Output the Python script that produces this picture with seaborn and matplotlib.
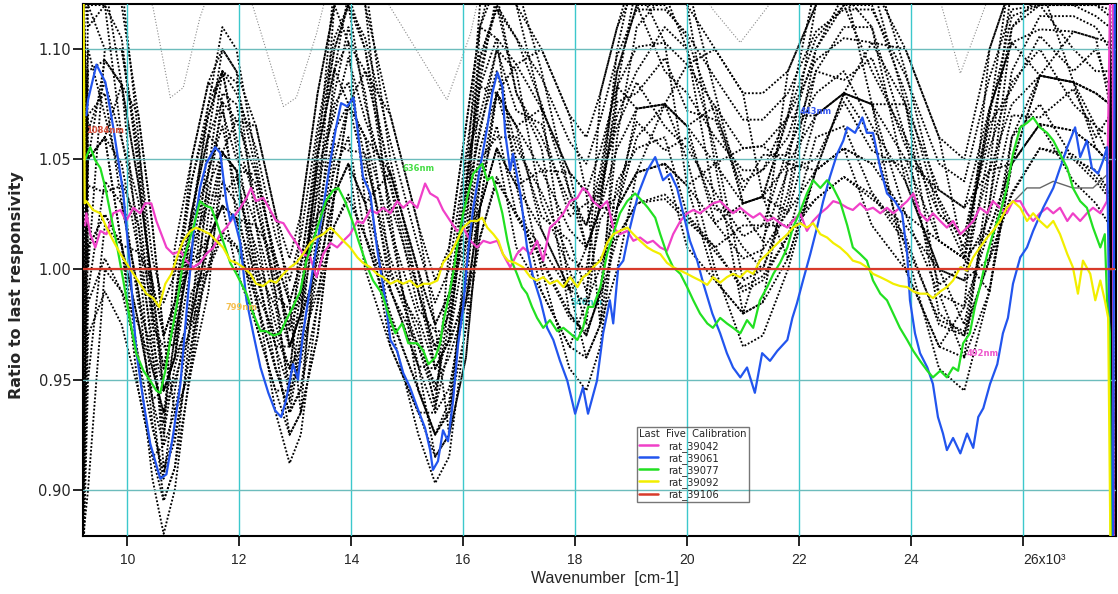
import matplotlib
matplotlib.use("Agg")
from matplotlib import pyplot as plt
from matplotlib.lines import Line2D
from matplotlib.ticker import FormatStrFormatter
import matplotlib.transforms as mtransforms
import seaborn as sns
import pandas as pd

# Wavenumber in units of 10^3 cm-1, ratio to the last responsivity
mag_x = [9.25, 9.27, 9.34, 9.43, 9.52, 9.63, 9.75, 9.88, 9.98, 10.11, 10.23, 10.32, 10.43, 10.52, 10.61, 10.70,
         10.82, 10.95, 11.05, 11.18, 11.30, 11.41, 11.54, 11.66, 11.77, 11.89, 12.02, 12.13, 12.21, 12.30, 12.43,
         12.55, 12.66, 12.79, 12.91, 13.02, 13.14, 13.27, 13.38, 13.50, 13.63, 13.75, 13.86, 13.98, 14.11, 14.21,
         14.34, 14.46, 14.57, 14.70, 14.82, 14.93, 15.05, 15.18, 15.32, 15.41, 15.54, 15.64, 15.77, 15.89, 16.00,
         16.13, 16.25, 16.36, 16.48, 16.61, 16.71, 16.84, 16.96, 17.07, 17.20, 17.32, 17.43, 17.55, 17.68, 17.79,
         17.91, 18.04, 18.14, 18.23, 18.32, 18.45, 18.57, 18.68, 18.80, 18.93, 19.04, 19.16, 19.29, 19.39, 19.52,
         19.64, 19.75, 19.88, 20.00, 20.11, 20.23, 20.36, 20.46, 20.59, 20.71, 20.82, 20.95, 21.07, 21.18, 21.30,
         21.43, 21.54, 21.66, 21.79, 21.89, 22.02, 22.14, 22.25, 22.38, 22.50, 22.61, 22.73, 22.86, 22.96, 23.09,
         23.21, 23.32, 23.45, 23.57, 23.68, 23.80, 23.93, 24.04, 24.16, 24.29, 24.39, 24.52, 24.64, 24.75, 24.88,
         25.00, 25.11, 25.23, 25.36, 25.46, 25.59, 25.71, 25.82, 25.95, 26.07, 26.18, 26.30, 26.43, 26.54, 26.66,
         26.79, 26.89, 27.02, 27.14, 27.25, 27.38, 27.50, 27.60, 27.62]
mag_y = [1.020, 1.0255, 1.016, 1.010, 1.0175, 1.016, 1.0255, 1.027, 1.022, 1.028, 1.0255, 1.030, 1.030, 1.022, 1.016,
         1.010, 1.007, 1.0085, 1.004, 1.001, 1.003, 1.007, 1.010, 1.016, 1.019, 1.0235, 1.028, 1.0325, 1.037, 1.031,
         1.0325, 1.027, 1.022, 1.021, 1.016, 1.012, 1.007, 1.0055, 0.9965, 1.007, 1.012, 1.010, 1.013, 1.016, 1.022,
         1.021, 1.027, 1.0255, 1.028, 1.0255, 1.031, 1.028, 1.031, 1.028, 1.039, 1.0345, 1.0325, 1.027, 1.022, 1.0175,
         1.019, 1.013, 1.010, 1.013, 1.012, 1.013, 1.007, 1.001, 1.007, 1.010, 1.007, 1.013, 1.004, 1.019, 1.022,
         1.0255, 1.031, 1.0325, 1.037, 1.035, 1.031, 1.028, 1.031, 1.019, 1.016, 1.0175, 1.013, 1.0145, 1.012, 1.013,
         1.010, 1.0085, 1.016, 1.022, 1.0255, 1.027, 1.0255, 1.028, 1.030, 1.031, 1.028, 1.0255, 1.028, 1.0255,
         1.0235, 1.0255, 1.022, 1.0235, 1.021, 1.019, 1.022, 1.0255, 1.0175, 1.022, 1.0255, 1.028, 1.031, 1.030,
         1.028, 1.027, 1.030, 1.027, 1.028, 1.0255, 1.028, 1.0255, 1.028, 1.031, 1.0345, 1.0255, 1.022, 1.0255, 1.022,
         1.019, 1.022, 1.016, 1.019, 1.022, 1.028, 1.0255, 1.031, 1.028, 1.0255, 1.031, 1.031, 1.0255, 1.022, 1.0255,
         1.028, 1.0255, 1.028, 1.022, 1.0255, 1.022, 1.0255, 1.028, 1.0255, 1.031, 1.20, 0.80]

blue_x = [9.27, 9.30, 9.45, 9.61, 9.75, 9.93, 10.05, 10.16, 10.29, 10.41, 10.59, 10.70, 10.82, 10.95, 11.05, 11.18,
          11.30, 11.41, 11.57, 11.66, 11.77, 11.84, 11.89, 12.02, 12.13, 12.25, 12.38, 12.52, 12.64, 12.75, 12.84,
          12.96, 13.05, 13.14, 13.32, 13.50, 13.63, 13.73, 13.82, 13.93, 14.04, 14.11, 14.21, 14.34, 14.46, 14.61,
          14.70, 14.82, 14.93, 15.05, 15.20, 15.32, 15.41, 15.46, 15.55, 15.64, 15.73, 15.82, 15.91, 16.00, 16.09,
          16.18, 16.30, 16.43, 16.52, 16.61, 16.70, 16.75, 16.84, 16.89, 17.02, 17.14, 17.25, 17.38, 17.50, 17.61,
          17.73, 17.86, 18.00, 18.14, 18.23, 18.39, 18.50, 18.62, 18.68, 18.77, 18.86, 18.98, 19.13, 19.29, 19.43,
          19.57, 19.70, 19.82, 19.93, 20.05, 20.18, 20.29, 20.45, 20.59, 20.71, 20.82, 20.95, 21.07, 21.21, 21.34,
          21.48, 21.61, 21.79, 21.88, 21.96, 22.07, 22.20, 22.32, 22.43, 22.55, 22.68, 22.79, 22.86, 23.00, 23.13,
          23.21, 23.32, 23.45, 23.57, 23.71, 23.84, 23.93, 23.98, 24.07, 24.16, 24.29, 24.39, 24.48, 24.57, 24.64,
          24.75, 24.88, 25.00, 25.11, 25.20, 25.29, 25.41, 25.54, 25.64, 25.73, 25.82, 25.95, 26.07, 26.18, 26.36,
          26.54, 26.66, 26.79, 26.93, 27.02, 27.14, 27.23, 27.34, 27.43, 27.50, 27.52, 27.60, 27.65]
blue_y = [1.070, 1.077, 1.093, 1.085, 1.0645, 1.0345, 1.001, 0.963, 0.940, 0.921, 0.905, 0.907, 0.925, 0.948, 0.978,
          1.016, 1.037, 1.048, 1.0555, 1.053, 1.031, 1.022, 1.025, 1.012, 0.986, 0.971, 0.9555, 0.944, 0.936, 0.933,
          0.941, 0.957, 0.950, 0.971, 1.001, 1.028, 1.0495, 1.0645, 1.0755, 1.074, 1.078, 1.0645, 1.042, 1.0345,
          1.010, 0.986, 0.968, 0.963, 0.953, 0.9465, 0.936, 0.928, 0.918, 0.909, 0.913, 0.927, 0.922, 0.9405, 0.966,
          0.983, 1.0085, 1.028, 1.046, 1.0645, 1.080, 1.0895, 1.083, 1.062, 1.045, 1.0525, 1.0345, 1.010, 0.9965,
          0.986, 0.9735, 0.968, 0.9585, 0.9495, 0.9345, 0.9465, 0.9345, 0.9495, 0.971, 0.986, 0.9755, 1.001, 1.004,
          1.019, 1.0345, 1.045, 1.051, 1.0405, 1.0435, 1.037, 1.0255, 1.013, 1.004, 0.9935, 0.980, 0.971, 0.962,
          0.9555, 0.951, 0.9555, 0.944, 0.962, 0.9585, 0.963, 0.968, 0.978, 0.9845, 0.995, 1.007, 1.019, 1.031, 1.042,
          1.0525, 1.0585, 1.0645, 1.062, 1.069, 1.062, 1.062, 1.046, 1.0345, 1.031, 1.0255, 1.007, 0.986, 0.971,
          0.962, 0.9555, 0.948, 0.933, 0.9255, 0.918, 0.9235, 0.9165, 0.9255, 0.919, 0.933, 0.937, 0.948, 0.957,
          0.971, 0.978, 0.9935, 1.0055, 1.010, 1.0175, 1.028, 1.037, 1.046, 1.0555, 1.0645, 1.051, 1.0585, 1.046,
          1.0435, 1.0495, 1.0555, 1.016, 0.84, 1.20]

green_x = [9.25, 9.34, 9.43, 9.52, 9.61, 9.70, 9.80, 9.93, 10.05, 10.16, 10.29, 10.41, 10.52, 10.59, 10.68, 10.77,
           10.88, 11.00, 11.18, 11.30, 11.39, 11.50, 11.59, 11.71, 11.84, 11.95, 12.13, 12.25, 12.38, 12.48, 12.61,
           12.73, 12.84, 12.96, 13.09, 13.20, 13.32, 13.45, 13.55, 13.68, 13.77, 13.89, 14.02, 14.13, 14.29, 14.39,
           14.55, 14.70, 14.79, 14.91, 15.02, 15.18, 15.29, 15.38, 15.50, 15.59, 15.64, 15.73, 15.82, 15.91, 16.00,
           16.09, 16.18, 16.34, 16.43, 16.52, 16.61, 16.70, 16.79, 16.88, 16.96, 17.05, 17.14, 17.23, 17.32, 17.43,
           17.55, 17.68, 17.79, 17.91, 18.04, 18.14, 18.23, 18.32, 18.45, 18.57, 18.68, 18.80, 18.93, 19.07, 19.20,
           19.30, 19.43, 19.52, 19.64, 19.75, 19.88, 20.00, 20.11, 20.23, 20.36, 20.46, 20.59, 20.71, 20.82, 20.95,
           21.07, 21.18, 21.30, 21.43, 21.54, 21.66, 21.79, 21.89, 22.02, 22.14, 22.25, 22.38, 22.50, 22.61, 22.73,
           22.86, 22.96, 23.09, 23.21, 23.32, 23.45, 23.57, 23.68, 23.80, 23.93, 24.04, 24.16, 24.29, 24.39, 24.52,
           24.64, 24.75, 24.84, 24.93, 25.05, 25.14, 25.23, 25.36, 25.46, 25.59, 25.71, 25.82, 25.95, 26.07, 26.18,
           26.30, 26.43, 26.54, 26.66, 26.79, 26.89, 27.02, 27.14, 27.25, 27.38, 27.46, 27.50, 27.55, 27.58]
green_y = [1.050, 1.0555, 1.0495, 1.046, 1.037, 1.0255, 1.013, 0.995, 0.977, 0.962, 0.954, 0.9495, 0.945, 0.944,
           0.954, 0.968, 0.983, 1.004, 1.019, 1.031, 1.029, 1.028, 1.022, 1.013, 1.003, 0.998, 0.989, 0.980, 0.972,
           0.972, 0.970, 0.971, 0.977, 0.983, 0.990, 1.004, 1.013, 1.0235, 1.031, 1.036, 1.037, 1.031, 1.022, 1.013,
           1.001, 0.995, 0.989, 0.977, 0.971, 0.9755, 0.9665, 0.9665, 0.963, 0.957, 0.960, 0.9665, 0.9755, 0.986,
           0.998, 1.013, 1.0255, 1.0345, 1.0435, 1.048, 1.0405, 1.042, 1.0345, 1.0255, 1.013, 1.003, 0.998, 0.992,
           0.989, 0.983, 0.978, 0.9735, 0.977, 0.972, 0.9735, 0.971, 0.968, 0.9735, 0.983, 0.983, 0.992, 1.007, 1.016,
           1.0255, 1.031, 1.0345, 1.031, 1.028, 1.0235, 1.016, 1.007, 1.001, 0.998, 0.992, 0.986, 0.980, 0.9755,
           0.9735, 0.978, 0.9755, 0.9735, 0.971, 0.977, 0.9735, 0.986, 0.992, 0.998, 1.003, 1.010, 1.019, 1.0265,
           1.0345, 1.0405, 1.037, 1.0405, 1.037, 1.031, 1.020, 1.010, 1.007, 1.004, 0.995, 0.989, 0.986, 0.980,
           0.9735, 0.968, 0.963, 0.9585, 0.954, 0.951, 0.954, 0.951, 0.9555, 0.954, 0.9665, 0.971, 0.983, 0.992,
           1.007, 1.016, 1.0255, 1.037, 1.0525, 1.0645, 1.0665, 1.069, 1.0645, 1.062, 1.0585, 1.0525, 1.046, 1.037,
           1.031, 1.028, 1.019, 1.010, 1.016, 0.986, 0.971, 0.80]

yel_x = [9.22, 9.24, 9.27, 9.39, 9.52, 9.63, 9.75, 9.88, 9.98, 10.11, 10.23, 10.34, 10.46, 10.57, 10.68, 10.79,
         10.91, 11.00, 11.13, 11.23, 11.36, 11.48, 11.59, 11.71, 11.84, 11.95, 12.07, 12.20, 12.30, 12.43, 12.55,
         12.66, 12.79, 12.91, 13.02, 13.14, 13.27, 13.38, 13.50, 13.63, 13.75, 13.86, 13.98, 14.11, 14.21, 14.34,
         14.46, 14.57, 14.70, 14.82, 14.93, 15.05, 15.18, 15.29, 15.41, 15.54, 15.64, 15.77, 15.89, 16.00, 16.13,
         16.25, 16.34, 16.43, 16.54, 16.63, 16.71, 16.80, 16.93, 17.07, 17.20, 17.32, 17.43, 17.55, 17.68, 17.79,
         17.91, 18.04, 18.14, 18.23, 18.32, 18.45, 18.57, 18.68, 18.80, 18.93, 19.04, 19.16, 19.29, 19.39, 19.52,
         19.64, 19.75, 19.88, 20.00, 20.11, 20.23, 20.36, 20.46, 20.59, 20.71, 20.82, 20.95, 21.07, 21.18, 21.30,
         21.43, 21.54, 21.66, 21.79, 21.89, 22.02, 22.14, 22.25, 22.38, 22.50, 22.61, 22.73, 22.86, 22.96, 23.09,
         23.21, 23.32, 23.45, 23.57, 23.68, 23.80, 23.93, 24.04, 24.16, 24.29, 24.39, 24.52, 24.64, 24.75, 24.88,
         25.00, 25.11, 25.23, 25.36, 25.46, 25.59, 25.71, 25.82, 25.95, 26.07, 26.18, 26.30, 26.43, 26.54, 26.66,
         26.79, 26.89, 26.98, 27.07, 27.20, 27.29, 27.38, 27.46, 27.52, 27.59]
yel_y = [1.13, 1.030, 1.031, 1.027, 1.0255, 1.019, 1.013, 1.007, 1.003, 0.998, 0.9935, 0.989, 0.987, 0.983, 0.9935,
         0.998, 1.007, 1.013, 1.0175, 1.019, 1.0175, 1.016, 1.013, 1.010, 1.004, 1.003, 1.001, 0.998, 0.9935, 0.9925,
         0.995, 0.994, 0.998, 1.001, 1.003, 1.007, 1.012, 1.0145, 1.016, 1.019, 1.016, 1.013, 1.010, 1.0055, 1.003,
         1.001, 0.998, 0.9965, 0.9935, 0.995, 0.9935, 0.995, 0.992, 0.9935, 0.9935, 0.995, 1.003, 1.007, 1.013, 1.019,
         1.022, 1.022, 1.0235, 1.019, 1.016, 1.013, 1.007, 1.004, 1.003, 1.001, 0.9965, 0.995, 0.9965, 0.9935, 0.995,
         0.992, 0.9965, 0.992, 0.9965, 0.998, 1.001, 1.004, 1.012, 1.016, 1.0175, 1.019, 1.016, 1.013, 1.010, 1.0085,
         1.007, 1.003, 1.001, 0.9995, 0.998, 0.9965, 0.995, 0.993, 0.9965, 0.994, 0.9965, 0.998, 0.9965, 0.9995,
         0.998, 1.004, 1.007, 1.010, 1.013, 1.016, 1.019, 1.021, 1.019, 1.021, 1.016, 1.0145, 1.012, 1.010, 1.007,
         1.004, 1.003, 1.001, 0.998, 0.9965, 0.995, 0.9935, 0.9925, 0.992, 0.990, 0.989, 0.989, 0.987, 0.990, 0.992,
         0.995, 1.001, 0.9995, 1.0055, 1.010, 1.0145, 1.0175, 1.022, 1.028, 1.031, 1.028, 1.022, 1.0255, 1.022,
         1.019, 1.022, 1.016, 1.007, 1.001, 0.989, 1.004, 0.998, 0.986, 0.995, 0.986, 0.978, 0.80]

red_x = [9.21, 27.62]
red_y = [1.0, 1.0]

# shared wavenumbers of the older calibration ratios (black dotted family)
black_x = [9.22, 9.3, 9.6, 9.9, 10.2, 10.45, 10.65, 10.85, 11.15, 11.45,
           11.7, 11.95, 12.3, 12.65, 12.9, 13.1, 13.4, 13.7, 13.95, 14.25,
           14.7, 15.2, 15.5, 15.75, 16.05, 16.3, 16.6, 16.95, 17.4, 17.9,
           18.2, 18.45, 18.75, 19.1, 19.6, 20.0, 20.5, 21.0, 21.35, 21.8,
           22.3, 22.8, 23.3, 23.9, 24.5, 24.95, 25.4, 25.8, 26.3, 26.9,
           27.3, 27.55, 27.62]
black_runs = [
    [0.88, 0.97, 0.99, 0.975, 0.945, 0.915, 0.895, 0.91, 0.955, 1.014,
     1.029, 1.0, 0.975, 0.945, 0.925, 0.935, 0.97, 1.034, 1.048, 1.0,
     0.965, 0.935, 0.915, 0.925, 0.96, 1.028, 1.055, 1.01, 0.99, 0.965,
     0.96, 0.975, 1.028, 1.044, 1.048, 1.01, 0.995, 0.98, 0.985, 1.005,
     1.045, 1.055, 1.02, 1.0, 0.965, 0.96, 0.99, 1.048, 1.066, 1.04,
     1.03, 1.02, 0.85],
    [1.14, 1.13, 1.14, 1.12, 1.07, 1.02, 0.97, 0.985, 1.05, 1.085,
     1.10, 1.09, 1.065, 1.025, 1.005, 1.025, 1.08, 1.12, 1.14, 1.12,
     1.07, 1.02, 0.995, 1.01, 1.065, 1.11, 1.14, 1.12, 1.10, 1.07,
     1.06, 1.08, 1.11, 1.14, 1.14, 1.12, 1.10, 1.08, 1.08, 1.09,
     1.12, 1.14, 1.13, 1.10, 1.06, 1.05, 1.10, 1.13, 1.14, 1.14,
     1.13, 1.13, 0.95],
    [0.87, 1.13, 1.13, 1.084, 1.008, 0.941, 0.895, 0.91, 0.979, 1.061,
     1.10, 1.09, 1.02, 0.965, 0.925, 0.935, 1.025, 1.12, 1.13, 1.12,
     1.018, 0.956, 0.915, 0.925, 1.013, 1.11, 1.13, 1.12, 1.073, 0.991,
     0.96, 0.975, 1.083, 1.13, 1.13, 1.12, 1.048, 0.98, 0.985, 1.048,
     1.12, 1.13, 1.13, 1.075, 0.989, 0.96, 1.045, 1.13, 1.13, 1.13,
     1.13, 1.13, 0.90],
    [1.10, 1.01, 1.025, 1.011, 1.008, 0.994, 0.97, 0.985, 1.003, 1.014,
     1.029, 1.023, 1.02, 1.005, 0.985, 1.003, 1.025, 1.034, 1.048, 1.03,
     1.044, 0.999, 0.975, 0.989, 1.013, 1.028, 1.055, 1.038, 1.045, 1.044,
     1.035, 1.028, 1.028, 1.044, 1.048, 1.038, 1.048, 1.055, 1.056, 1.048,
     1.045, 1.055, 1.048, 1.05, 1.036, 1.028, 1.045, 1.048, 1.066, 1.063,
     1.055, 1.048, 0.86],
    [0.92, 1.01, 1.025, 1.011, 0.976, 0.941, 0.92, 0.935, 0.979, 1.014,
     1.029, 1.023, 0.998, 0.965, 0.945, 0.958, 0.998, 1.034, 1.048, 1.03,
     0.991, 0.956, 0.935, 0.946, 0.986, 1.028, 1.055, 1.038, 1.018, 0.991,
     0.985, 1.001, 1.028, 1.044, 1.048, 1.038, 1.021, 1.005, 1.009, 1.026,
     1.045, 1.055, 1.048, 1.025, 0.989, 0.983, 1.018, 1.048, 1.066, 1.063,
     1.055, 1.048, 0.84],
    [1.12, 1.05, 1.06, 1.048, 1.008, 0.968, 0.945, 0.96, 1.003, 1.038,
     1.053, 1.045, 1.02, 0.985, 0.965, 0.98, 1.025, 1.063, 1.075, 1.06,
     1.018, 0.978, 0.955, 0.968, 1.013, 1.055, 1.08, 1.065, 1.045, 1.018,
     1.01, 1.028, 1.055, 1.073, 1.075, 1.065, 1.048, 1.03, 1.033, 1.048,
     1.07, 1.08, 1.075, 1.05, 1.013, 1.005, 1.045, 1.075, 1.088, 1.085,
     1.08, 1.075, 0.88],
    [0.95, 1.09, 1.095, 1.084, 1.039, 0.994, 0.97, 0.985, 1.026, 1.061,
     1.076, 1.068, 1.043, 1.005, 0.985, 1.003, 1.053, 1.091, 1.103, 1.09,
     1.044, 0.999, 0.975, 0.989, 1.039, 1.083, 1.105, 1.093, 1.073, 1.044,
     1.035, 1.054, 1.083, 1.101, 1.103, 1.093, 1.074, 1.055, 1.056, 1.069,
     1.095, 1.105, 1.103, 1.075, 1.036, 1.028, 1.073, 1.103, 1.109, 1.108,
     1.105, 1.103, 0.92],
    [1.13, 1.05, 1.06, 1.084, 1.07, 1.02, 0.97, 0.935, 0.955, 0.99,
     1.053, 1.068, 1.065, 1.025, 0.985, 0.935, 0.97, 1.034, 1.075, 1.09,
     1.07, 1.02, 0.975, 0.925, 0.96, 1.028, 1.08, 1.093, 1.10, 1.07,
     1.035, 0.975, 1.0, 1.044, 1.075, 1.093, 1.10, 1.08, 1.033, 1.005,
     1.045, 1.08, 1.103, 1.10, 1.06, 1.005, 0.99, 1.048, 1.088, 1.108,
     1.105, 1.075, 0.89],
    [0.89, 1.05, 1.06, 1.011, 0.945, 0.915, 0.92, 1.01, 1.05, 1.085,
     1.076, 1.023, 0.975, 0.945, 0.945, 1.025, 1.08, 1.12, 1.103, 1.03,
     0.965, 0.935, 0.935, 1.01, 1.065, 1.11, 1.105, 1.038, 0.99, 0.965,
     0.985, 1.08, 1.11, 1.13, 1.103, 1.038, 0.995, 0.98, 1.009, 1.09,
     1.12, 1.13, 1.075, 1.0, 0.965, 0.983, 1.10, 1.13, 1.13, 1.085,
     1.055, 1.048, 0.87],
    [0.87, 0.95, 1.02, 1.011, 0.96, 0.905, 0.88, 0.90, 0.96, 1.025,
     1.053, 1.045, 0.99, 0.935, 0.912, 0.925, 0.985, 1.05, 1.075, 1.045,
     0.975, 0.925, 0.903, 0.915, 0.975, 1.04, 1.08, 1.05, 1.0, 0.955,
     0.945, 0.965, 1.028, 1.06, 1.075, 1.05, 1.0, 0.965, 0.97, 1.0,
     1.045, 1.08, 1.06, 1.01, 0.955, 0.945, 0.99, 1.06, 1.088, 1.085,
     1.065, 1.05, 0.83],
    [1.13, 1.11, 1.12, 1.06, 1.02, 0.98, 0.955, 0.985, 1.04, 1.07,
     1.09, 1.06, 1.03, 0.995, 0.975, 1.0, 1.06, 1.10, 1.12, 1.075,
     1.03, 0.99, 0.965, 0.98, 1.03, 1.09, 1.12, 1.08, 1.06, 1.03,
     1.02, 1.04, 1.09, 1.12, 1.09, 1.08, 1.06, 1.045, 1.045, 1.06,
     1.10, 1.12, 1.09, 1.06, 1.025, 1.015, 1.06, 1.11, 1.12, 1.10,
     1.09, 1.09, 0.93],
    [0.90, 0.99, 1.04, 1.03, 0.99, 0.93, 0.905, 0.945, 0.99, 1.00,
     1.04, 1.03, 0.985, 0.955, 0.935, 0.945, 1.01, 1.045, 1.06, 1.015,
     0.98, 0.945, 0.925, 0.935, 1.0, 1.04, 1.065, 1.025, 1.005, 0.98,
     0.97, 0.99, 1.04, 1.055, 1.06, 1.025, 1.01, 0.99, 0.995, 1.015,
     1.06, 1.065, 1.035, 1.015, 0.975, 0.97, 1.005, 1.06, 1.075, 1.05,
     1.045, 1.035, 0.86],
    [1.14, 1.14, 1.15, 1.13, 1.06, 0.985, 0.945, 0.96, 1.02, 1.075,
     1.11, 1.10, 1.05, 1.0, 0.965, 0.98, 1.05, 1.13, 1.14, 1.13,
     1.05, 0.99, 0.955, 0.968, 1.04, 1.12, 1.14, 1.13, 1.09, 1.035,
     1.01, 1.028, 1.10, 1.14, 1.14, 1.13, 1.08, 1.03, 1.033, 1.07,
     1.13, 1.14, 1.14, 1.09, 1.03, 1.005, 1.07, 1.14, 1.14, 1.14,
     1.14, 1.14, 0.94],
    [0.93, 1.07, 1.08, 1.03, 0.99, 0.955, 0.935, 0.97, 1.01, 1.045,
     1.065, 1.035, 1.01, 0.975, 0.955, 0.99, 1.035, 1.075, 1.085, 1.05,
     1.005, 0.97, 0.945, 0.975, 1.025, 1.065, 1.09, 1.055, 1.035, 1.005,
     1.0, 1.04, 1.065, 1.085, 1.065, 1.055, 1.035, 1.015, 1.02, 1.055,
     1.08, 1.09, 1.065, 1.04, 1.0, 0.995, 1.055, 1.085, 1.10, 1.075,
     1.065, 1.06, 0.88],
    [1.13, 1.12, 1.10, 1.10, 1.055, 1.005, 0.985, 0.998, 1.04, 1.075,
     1.09, 1.08, 1.055, 1.015, 0.995, 1.015, 1.065, 1.105, 1.12, 1.105,
     1.058, 1.01, 0.985, 1.0, 1.052, 1.097, 1.118, 1.105, 1.087, 1.058,
     1.048, 1.068, 1.097, 1.118, 1.118, 1.107, 1.087, 1.068, 1.068, 1.08,
     1.108, 1.118, 1.118, 1.088, 1.048, 1.04, 1.087, 1.118, 1.12, 1.12,
     1.12, 1.118, 0.92],
    [0.88, 0.90, 1.0, 0.99, 0.96, 0.928, 0.908, 0.922, 0.967, 1.002,
     1.017, 1.011, 0.987, 0.955, 0.935, 0.946, 0.984, 1.02, 1.034, 1.015,
     0.978, 0.946, 0.925, 0.936, 0.973, 1.014, 1.042, 1.024, 1.004, 0.978,
     0.972, 0.988, 1.014, 1.03, 1.034, 1.024, 1.008, 0.992, 0.997, 1.015,
     1.032, 1.042, 1.034, 1.012, 0.977, 0.972, 1.004, 1.034, 1.055, 1.052,
     1.042, 1.034, 0.85],
    [0.96, 1.038, 1.035, 1.038, 0.984, 0.963, 0.925, 0.956, 0.983, 1.034,
     1.033, 1.042, 1.001, 0.983, 0.947, 0.977, 1.004, 1.057, 1.054, 1.053,
     0.997, 0.975, 0.937, 0.965, 0.992, 1.05, 1.06, 1.06, 1.024, 1.013,
     0.99, 1.023, 1.034, 1.067, 1.054, 1.06, 1.027, 1.026, 1.013, 1.045,
     1.05, 1.076, 1.054, 1.046, 0.993, 1.002, 1.024, 1.07, 1.069, 1.082,
     1.06, 1.07, 0.87],
    [1.11, 1.063, 1.085, 1.059, 1.031, 0.974, 0.965, 0.966, 1.022, 1.043,
     1.072, 1.05, 1.039, 0.988, 0.982, 0.985, 1.046, 1.07, 1.096, 1.068,
     1.038, 0.982, 0.972, 0.972, 1.033, 1.062, 1.10, 1.072, 1.066, 1.024,
     1.03, 1.034, 1.076, 1.08, 1.096, 1.072, 1.068, 1.036, 1.052, 1.052,
     1.09, 1.086, 1.096, 1.056, 1.032, 1.01, 1.066, 1.082, 1.106, 1.09,
     1.10, 1.082, 0.91],
    [0.97, 1.05, 1.06, 1.011, 0.976, 0.941, 0.945, 0.96, 1.026, 1.061,
     1.053, 1.045, 0.998, 0.965, 0.965, 0.98, 1.053, 1.091, 1.075, 1.06,
     0.991, 0.956, 0.955, 0.968, 1.039, 1.083, 1.08, 1.065, 1.018, 0.991,
     1.01, 1.028, 1.083, 1.073, 1.075, 1.065, 1.021, 1.03, 1.033, 1.069,
     1.07, 1.08, 1.075, 1.025, 1.013, 1.005, 1.073, 1.103, 1.088, 1.085,
     1.08, 1.075, 0.88],
    [1.0, 1.05, 1.095, 1.084, 1.039, 0.994, 0.945, 0.96, 0.979, 1.014,
     1.053, 1.045, 1.043, 1.005, 0.965, 0.98, 0.998, 1.034, 1.075, 1.06,
     1.044, 0.999, 0.955, 0.968, 0.986, 1.028, 1.08, 1.065, 1.073, 1.044,
     1.01, 1.028, 1.028, 1.073, 1.075, 1.065, 1.074, 1.03, 1.033, 1.026,
     1.07, 1.08, 1.075, 1.075, 1.013, 1.005, 1.018, 1.048, 1.088, 1.085,
     1.08, 1.075, 0.90],
    [1.12, 1.12, 1.12, 1.105, 1.045, 0.99, 0.955, 0.975, 1.025, 1.07,
     1.09, 1.085, 1.045, 1.0, 0.972, 0.99, 1.05, 1.10, 1.12, 1.10,
     1.04, 0.99, 0.963, 0.98, 1.035, 1.095, 1.12, 1.105, 1.075, 1.035,
     1.02, 1.045, 1.09, 1.12, 1.12, 1.105, 1.07, 1.04, 1.045, 1.07,
     1.105, 1.12, 1.12, 1.08, 1.025, 1.015, 1.07, 1.115, 1.12, 1.12,
     1.115, 1.11, 0.93],
    [0.90, 0.985, 1.005, 0.99, 0.975, 0.955, 0.935, 0.95, 0.975, 1.0,
     1.015, 1.01, 0.99, 0.97, 0.955, 0.965, 0.99, 1.02, 1.032, 1.015,
     0.99, 0.965, 0.948, 0.96, 0.985, 1.015, 1.04, 1.025, 1.01, 0.99,
     0.998, 1.005, 1.015, 1.03, 1.032, 1.022, 1.01, 1.02, 1.02, 1.02,
     1.032, 1.042, 1.032, 1.02, 1.0, 0.995, 1.005, 1.035, 1.055, 1.05,
     1.04, 1.032, 0.84],
    [0.99, 1.10, 1.07, 1.04, 1.02, 0.96, 0.93, 0.97, 1.01, 1.03,
     1.08, 1.075, 1.03, 0.99, 0.94, 0.97, 1.04, 1.08, 1.11, 1.08,
     1.00, 0.965, 0.94, 0.985, 1.05, 1.07, 1.10, 1.09, 1.03, 1.00,
     0.975, 1.035, 1.07, 1.09, 1.11, 1.10, 1.03, 1.01, 1.0, 1.03,
     1.09, 1.11, 1.11, 1.04, 1.00, 0.975, 1.03, 1.09, 1.115, 1.115,
     1.11, 1.10, 0.90],
    [1.13, 1.00, 1.10, 1.10, 1.05, 0.98, 0.91, 0.925, 0.965, 1.045,
     1.09, 1.055, 1.005, 0.955, 0.935, 0.965, 1.01, 1.09, 1.125, 1.10,
     1.025, 0.945, 0.925, 0.94, 1.0, 1.085, 1.125, 1.08, 1.055, 0.98,
     0.97, 0.99, 1.06, 1.11, 1.125, 1.10, 1.055, 0.995, 1.0, 1.035,
     1.10, 1.125, 1.11, 1.06, 0.98, 0.97, 1.03, 1.11, 1.125, 1.12,
     1.12, 1.115, 0.88],
]

# faint ratios that sit mostly above the plotted range
gray_x = [9.22, 9.9, 10.46, 10.77, 11.0, 11.3, 11.8, 12.25, 12.79, 13.02, 13.38, 13.9, 14.7, 15.71,
          16.13, 16.6, 18.3, 19.5, 20.46, 20.95, 21.43, 22.6, 24.52, 24.88, 25.36, 26.5, 27.6]
gray_y = [1.15, 1.16, 1.119, 1.078, 1.0825, 1.1145, 1.15, 1.119, 1.074, 1.078, 1.107, 1.16, 1.119, 1.077,
          1.107, 1.16, 1.13, 1.16, 1.118, 1.103, 1.119, 1.16, 1.122, 1.089, 1.122, 1.16, 1.16]

dark_x = [25.84, 26.07, 26.30, 26.54, 26.89, 27.25, 27.50]
dark_y = [1.031, 1.037, 1.037, 1.040, 1.037, 1.037, 1.043]

runs = ['rat_39042', 'rat_39061', 'rat_39077', 'rat_39092', 'rat_39106']
run_colors = ['#f040c8', '#2255ee', '#22e022', '#f2ee00', '#d83a2a']

wl_labels = ['1084nm', '799nm', '636nm', '546nm', '443nm', '492nm']
wl_x = [9.61, 12.04, 15.21, 18.20, 22.30, 25.27]
wl_y = [1.063, 0.9827, 1.0459, 0.985, 1.0718, 0.962]
wl_colors = ['#d8503c', '#f5c050', '#44dd44', '#33bbbb', '#3355ee', '#ee55cc']

x_ticks = [10, 12, 14, 16, 18, 20, 22, 24, 26]
x_tick_labels = ['10', '12', '14', '16', '18', '20', '22', '24', '26x10³']
y_ticks = [0.90, 0.95, 1.00, 1.05, 1.10]

for r in black_runs:
    if len(r) != len(black_x):
        raise ValueError(f"black run has {len(r)} values, expected {len(black_x)}")

sns.set_style("white")
plt.rcParams['font.family'] = ['DejaVu Sans']

fig = plt.figure(figsize=(11.18, 5.94), dpi=100)
ax = fig.add_axes([83 / 1118, 1 - 536 / 594, (1116 - 83) / 1118, (536 - 4) / 594])

# older ratios
black_df = pd.concat(
    [pd.DataFrame({'wn': black_x, 'ratio': r, 'trace': i}) for i, r in enumerate(black_runs)],
    ignore_index=True)
sns.lineplot(data=black_df, x='wn', y='ratio', units='trace', estimator=None, sort=False,
             color='black', linestyle=(0, (1, 1)), linewidth=1.35, ax=ax, legend=False)
ax.plot(gray_x, gray_y, color='#8a8a8a', linestyle=':', linewidth=0.8)
ax.plot(dark_x, dark_y, color='#666666', linewidth=1.0)

# last five calibrations
col_df = pd.concat([
    pd.DataFrame({'wn': mag_x, 'ratio': mag_y, 'run': runs[0]}),
    pd.DataFrame({'wn': blue_x, 'ratio': blue_y, 'run': runs[1]}),
    pd.DataFrame({'wn': green_x, 'ratio': green_y, 'run': runs[2]}),
    pd.DataFrame({'wn': yel_x, 'ratio': yel_y, 'run': runs[3]}),
    pd.DataFrame({'wn': red_x, 'ratio': red_y, 'run': runs[4]}),
], ignore_index=True)
sns.lineplot(data=col_df, x='wn', y='ratio', hue='run', hue_order=runs,
             palette=dict(zip(runs, run_colors)), estimator=None, sort=False,
             linewidth=1.6, ax=ax, legend=False, zorder=3)

for lab, x, y, c in zip(wl_labels, wl_x, wl_y, wl_colors):
    ax.text(x, y, lab, color=c, fontsize=6, fontweight='bold', ha='center', va='center',
            zorder=1.5 if lab == '546nm' else 4)

ax.set_xlim(9.21, 27.66)
ax.set_ylim(0.879, 1.1205)
ax.set_xticks(x_ticks)
ax.set_xticklabels(x_tick_labels, fontsize=10, family='Liberation Sans')
ax.set_yticks(y_ticks)
ax.yaxis.set_major_formatter(FormatStrFormatter('%.2f'))
for t in ax.get_yticklabels():
    t.set_fontsize(10.5)

last = ax.get_xticklabels()[-1]
last.set_horizontalalignment('left')
last.set_transform(last.get_transform() + mtransforms.ScaledTranslation(-7 / 100, 0, fig.dpi_scale_trans))

ax.set_axisbelow(False)
ax.xaxis.grid(True, color='#3cc8cc', linewidth=1.0)
ax.yaxis.grid(True, color='#6cbcbc', linewidth=1.0)
ax.tick_params(axis='both', which='major', direction='out', length=7, width=1.2,
               color='black', bottom=True, left=True)
ax.tick_params(axis='y', pad=1.5)
ax.tick_params(axis='x', pad=5)
for s in ax.spines.values():
    s.set_color('black')
    s.set_linewidth(1.5)

ax.set_ylabel('Ratio to last responsivity', fontsize=11.5, fontweight='bold')
ax.yaxis.set_label_coords(-0.057, 0.472)
ax.set_xlabel('Wavenumber  [cm-1]', fontsize=11.5, family='Liberation Sans')
ax.xaxis.set_label_coords(0.505, -0.066)

handles = [Line2D([], [], color=c, linewidth=1.8) for c in run_colors]
leg = ax.legend(handles, runs, title='Last  Five  Calibration', loc='upper left',
                bbox_to_anchor=(0.536, 0.205), fontsize=7.2, title_fontsize=7.2,
                frameon=True, fancybox=False, edgecolor='#555555', handlelength=1.9,
                handletextpad=1.0, labelspacing=0.12, borderpad=0.25, borderaxespad=0)
leg.get_frame().set_facecolor('none')
leg.get_frame().set_linewidth(1.0)
leg._legend_box.align = 'left'

fig.savefig('out.png', dpi=100)
